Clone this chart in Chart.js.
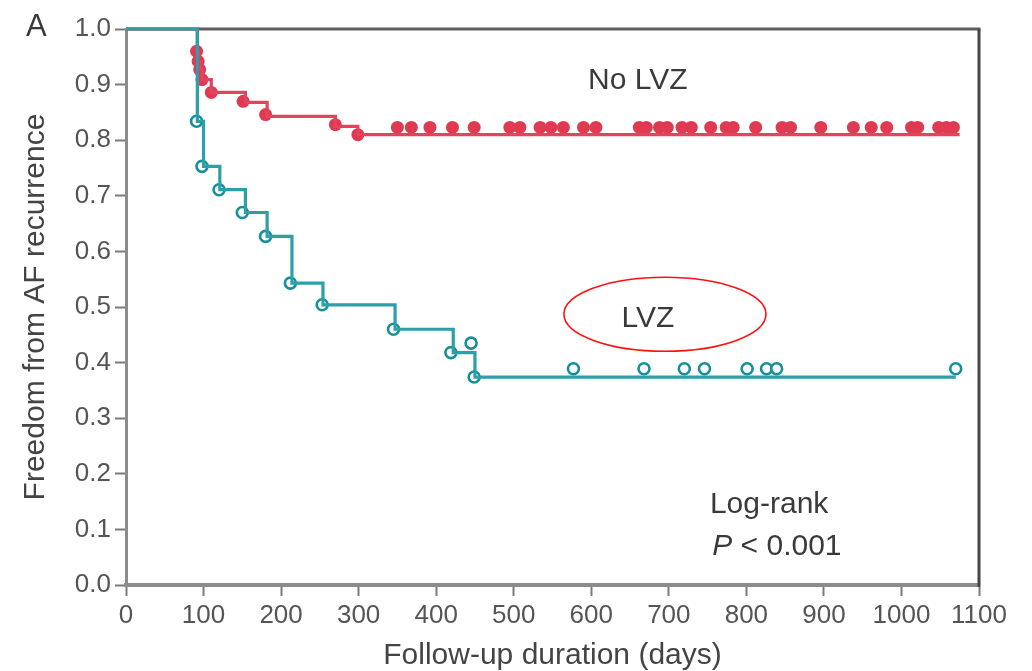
<!DOCTYPE html>
<html lang="en">
<head>
  <meta charset="UTF-8">
  <title>Freedom from AF recurrence</title>
  <script src="https://cdn.jsdelivr.net/npm/chart.js"></script>
  <style>
    html, body { margin: 0; padding: 0; background: #fff; }
    canvas { display: block; }
  </style>
</head>
<body>
  <canvas id="kmChart" width="1032" height="671"></canvas>
  <script>
    // Kaplan-Meier steps, LVZ group (day the curve drops, survival after the drop)
    const lvzStepDays = [0, 92, 100, 121, 154, 182, 214, 254, 347, 422, 450, 1070];
    const lvzStepVals = [1.0, 0.834, 0.753, 0.711, 0.670, 0.627, 0.543, 0.504, 0.460, 0.418, 0.374, 0.374];
    // open circle markers on the LVZ curve
    const lvzMarkDays = [91, 98, 120, 150, 180, 212, 253, 345, 419, 445, 449, 577, 668, 720, 746, 801, 826, 839, 1070];
    const lvzMarkVals = [0.834, 0.753, 0.711, 0.670, 0.627, 0.543, 0.504, 0.460, 0.418, 0.435, 0.374,
                         0.389, 0.389, 0.389, 0.389, 0.389, 0.389, 0.389, 0.389];

    // Kaplan-Meier steps, no LVZ group
    const noLvzStepDays = [0, 92, 94, 96, 98, 110, 154, 182, 270, 299, 1075];
    const noLvzStepVals = [1.0, 0.960, 0.942, 0.927, 0.909, 0.886, 0.868, 0.843, 0.825, 0.810, 0.810];
    const noLvzEventDays = [91, 93, 95, 98, 110, 151, 180, 270, 299];
    const noLvzEventVals = [0.960, 0.942, 0.927, 0.909, 0.886, 0.870, 0.846, 0.828, 0.810];
    // censored patients, drawn just above the flat tail
    const noLvzCensorDays = [350, 368, 392, 421, 449, 495, 508, 534, 548, 564, 590, 606, 662, 671, 688, 698,
                             717, 729, 754, 774, 783, 812, 846, 857, 896, 938, 961, 981, 1013, 1021, 1048, 1058, 1067];
    const noLvzCensorVal = 0.823;

    const xTicks = [0, 100, 200, 300, 400, 500, 600, 700, 800, 900, 1000, 1100];
    const yTicks = [0, 0.1, 0.2, 0.3, 0.4, 0.5, 0.6, 0.7, 0.8, 0.9, 1.0];

    const pts = (xs, ys) => xs.map((x, i) => ({ x: x, y: Array.isArray(ys) ? ys[i] : ys }));

    const TEAL = '#2c9fa7';
    const TEAL_DARK = '#15909a';
    const RED = '#e2445c';
    const FONT = '"Liberation Sans", Arial, sans-serif';

    // frame on top/right plus the text annotations
    const extras = {
      id: 'extras',
      beforeDatasetsDraw(chart) {
        const { ctx, chartArea: a } = chart;
        ctx.save();
        ctx.lineCap = 'butt';
        ctx.strokeStyle = '#5f5f5f';
        ctx.lineWidth = 3;
        ctx.beginPath();
        ctx.moveTo(a.left, a.top);
        ctx.lineTo(a.right + 1.5, a.top);
        ctx.stroke();
        ctx.strokeStyle = '#474747';
        ctx.beginPath();
        ctx.moveTo(a.right, a.top);
        ctx.lineTo(a.right, a.bottom + 2);
        ctx.stroke();
        ctx.restore();
      },
      afterDraw(chart) {
        const { ctx, scales: { x, y } } = chart;
        ctx.save();
        ctx.fillStyle = '#3a3a3a';
        ctx.font = '31px ' + FONT;
        ctx.textBaseline = 'alphabetic';
        ctx.textAlign = 'left';
        ctx.fillText('A', 26, 36);

        ctx.font = '30px ' + FONT;
        ctx.textAlign = 'center';
        ctx.fillText('No LVZ', x.getPixelForValue(660), y.getPixelForValue(0.911) + 11);
        ctx.fillText('LVZ', x.getPixelForValue(673), y.getPixelForValue(0.484) + 11);

        // red ring around the LVZ label
        ctx.strokeStyle = '#ff1010';
        ctx.lineWidth = 1.6;
        ctx.beginPath();
        ctx.ellipse(x.getPixelForValue(695), y.getPixelForValue(0.487), 101, 37, 0, 0, Math.PI * 2);
        ctx.stroke();

        ctx.textAlign = 'left';
        ctx.fillText('Log-rank', x.getPixelForValue(753), y.getPixelForValue(0.13));
        const px = x.getPixelForValue(756), py = y.getPixelForValue(0.054);
        ctx.font = 'italic 30px ' + FONT;
        ctx.fillText('P', px, py);
        const pw = ctx.measureText('P ').width;
        ctx.font = '30px ' + FONT;
        ctx.fillText('< 0.001', px + pw, py);
        ctx.restore();
      }
    };

    const tickFont = { family: FONT, size: 26 };
    const titleFont = { family: FONT, size: 30 };

    new Chart(document.getElementById('kmChart').getContext('2d'), {
      type: 'scatter',
      data: {
        datasets: [
          {
            type: 'line',
            data: pts(lvzStepDays, lvzStepVals),
            stepped: 'before',
            borderColor: TEAL,
            borderWidth: 3.2,
            pointRadius: 0,
            fill: false,
            clip: 10
          },
          {
            data: pts(lvzMarkDays, lvzMarkVals),
            pointRadius: 5.5,
            pointBorderWidth: 2.6,
            borderColor: TEAL_DARK,
            backgroundColor: 'rgba(255,255,255,0.75)',
            clip: 10
          },
          {
            type: 'line',
            data: pts(noLvzStepDays, noLvzStepVals),
            stepped: 'before',
            borderColor: RED,
            borderWidth: 3.2,
            pointRadius: 0,
            fill: false,
            clip: 10
          },
          {
            data: pts(noLvzEventDays, noLvzEventVals),
            pointRadius: 6.5,
            pointBorderWidth: 0,
            backgroundColor: '#e03a53',
            borderColor: '#e03a53',
            clip: 10
          },
          {
            data: pts(noLvzCensorDays, noLvzCensorVal),
            pointRadius: 6.5,
            pointBorderWidth: 0,
            backgroundColor: '#e03a53',
            borderColor: '#e03a53',
            clip: 10
          }
        ]
      },
      options: {
        responsive: false,
        animation: false,
        events: [],
        layout: { padding: { left: 0, top: 29, right: 53, bottom: 0 } },
        plugins: { legend: { display: false }, tooltip: { enabled: false } },
        scales: {
          x: {
            type: 'linear',
            min: 0,
            max: 1100,
            afterFit(s) { s.height = 86; },
            afterBuildTicks(s) { s.ticks = xTicks.map(v => ({ value: v })); },
            ticks: { font: tickFont, color: '#555', padding: 4, maxRotation: 0, autoSkip: false, callback: v => String(v) },
            grid: { drawOnChartArea: false, drawTicks: true, tickLength: 11, tickColor: '#7a7a7a', tickWidth: 2 },
            border: { color: '#8c8c8c', width: 4 },
            title: {
              display: true,
              text: 'Follow-up duration (days)',
              font: Object.assign({ lineHeight: 1.0 }, titleFont),
              color: '#444',
              padding: { top: 0, bottom: 0 }
            }
          },
          y: {
            min: 0,
            max: 1,
            afterFit(s) { s.width = 126; },
            afterBuildTicks(s) { s.ticks = yTicks.map(v => ({ value: v })); },
            ticks: { font: tickFont, color: '#555', padding: 4, callback: v => v.toFixed(1) },
            grid: { drawOnChartArea: false, drawTicks: true, tickLength: 11, tickColor: '#7a7a7a', tickWidth: 2 },
            border: { color: '#8c8c8c', width: 3 },
            title: {
              display: true,
              text: 'Freedom from AF recurrence',
              font: titleFont,
              color: '#444',
              padding: { top: 18, bottom: 0 }
            }
          }
        }
      },
      plugins: [extras]
    });
  </script>
</body>
</html>
